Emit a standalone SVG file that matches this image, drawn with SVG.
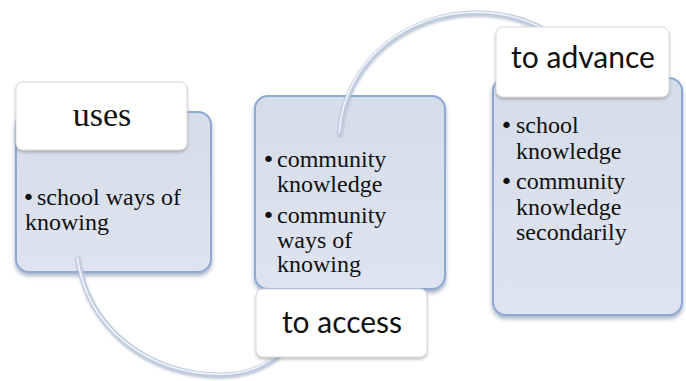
<svg xmlns="http://www.w3.org/2000/svg" width="686" height="381" viewBox="0 0 686 381">
  <defs>
    <linearGradient id="bodyFill" x1="0" y1="0" x2="0" y2="1">
      <stop offset="0" stop-color="#d5ddea"/>
      <stop offset="1" stop-color="#dee4ef"/>
    </linearGradient>
    <filter id="bodyShadow" x="-10%" y="-10%" width="120%" height="125%">
      <feDropShadow dx="0" dy="3" stdDeviation="2" flood-color="#5f7598" flood-opacity="0.55"/>
    </filter>
    <filter id="labelShadow" x="-10%" y="-15%" width="120%" height="140%">
      <feDropShadow dx="0" dy="2" stdDeviation="1.6" flood-color="#707070" flood-opacity="0.45"/>
    </filter>
    <filter id="linkShadow" x="-10%" y="-10%" width="120%" height="130%">
      <feDropShadow dx="0" dy="1.5" stdDeviation="1.2" flood-color="#8090aa" flood-opacity="0.5"/>
    </filter>
  </defs>
  <style>
    .body { fill: url(#bodyFill); stroke: #8fa9d3; stroke-width: 2; filter: url(#bodyShadow); }
    .label { fill: #ffffff; stroke: #d9d9d9; stroke-width: 1; filter: url(#labelShadow); }
    .item { font-family: "Liberation Serif", "Times New Roman", serif; font-size: 24px; fill: #111111; }
    .dot { font-family: "DejaVu Sans", sans-serif; font-size: 22px; }
    .head { font-family: Lato, "Open Sans", "Liberation Sans", sans-serif; font-size: 30px; fill: #111111; text-anchor: middle; }
    .head-serif { font-family: "Liberation Serif", "Times New Roman", serif; font-size: 34px; fill: #111111; text-anchor: middle; }
    .link-base { fill: none; stroke: #bfcce0; stroke-width: 5; stroke-linecap: round; filter: url(#linkShadow); }
    .link-hi { fill: none; stroke: #f3f6fa; stroke-width: 1.6; stroke-linecap: round; }
  </style>

  <rect width="686" height="381" fill="#ffffff"/>

  <!-- content panels -->
  <g id="uses-body">
    <rect class="body" x="16" y="112" width="195" height="160" rx="13"/>
    <text class="item" x="22" y="205"><tspan class="dot">•</tspan><tspan x="37">school ways of</tspan></text>
    <text class="item" x="25" y="230">knowing</text>
  </g>
  <g id="access-body">
    <rect class="body" x="255" y="96" width="190" height="193" rx="13"/>
    <text class="item" x="262" y="167"><tspan class="dot">•</tspan><tspan x="277">community</tspan></text>
    <text class="item" x="277" y="192">knowledge</text>
    <text class="item" x="262" y="223"><tspan class="dot">•</tspan><tspan x="277">community</tspan></text>
    <text class="item" x="277" y="248">ways of</text>
    <text class="item" x="277" y="272">knowing</text>
  </g>
  <g id="advance-body">
    <rect class="body" x="493" y="78" width="189" height="237" rx="13"/>
    <text class="item" x="500" y="133"><tspan class="dot">•</tspan><tspan x="516">school</tspan></text>
    <text class="item" x="516" y="159">knowledge</text>
    <text class="item" x="500" y="189"><tspan class="dot">•</tspan><tspan x="516">community</tspan></text>
    <text class="item" x="516" y="215">knowledge</text>
    <text class="item" x="516" y="240">secondarily</text>
  </g>

  <!-- curved connectors between the steps -->
  <g id="connectors">
    <path class="link-base" d="M78,258 C88,330 150,375 220,375 C245,375 262,368 278,356"/>
    <path class="link-hi" d="M78,258 C88,330 150,375 220,375 C245,375 262,368 278,356" transform="translate(-0.8,-0.8)"/>
    <path class="link-base" d="M340,133 C345,60 410,12 478,13 C505,13 525,19 545,30"/>
    <path class="link-hi" d="M340,133 C345,60 410,12 478,13 C505,13 525,19 545,30" transform="translate(-0.8,-0.8)"/>
  </g>

  <!-- step headings -->
  <g id="uses-label">
    <rect class="label" x="16" y="82" width="171" height="68" rx="7"/>
    <text class="head-serif" x="102" y="126">uses</text>
  </g>
  <g id="access-label">
    <rect class="label" x="256" y="289" width="171" height="68" rx="7"/>
    <text class="head" x="342" y="333">to access</text>
  </g>
  <g id="advance-label">
    <rect class="label" x="496" y="27" width="173" height="70" rx="7"/>
    <text class="head" x="583" y="68">to advance</text>
  </g>
</svg>
